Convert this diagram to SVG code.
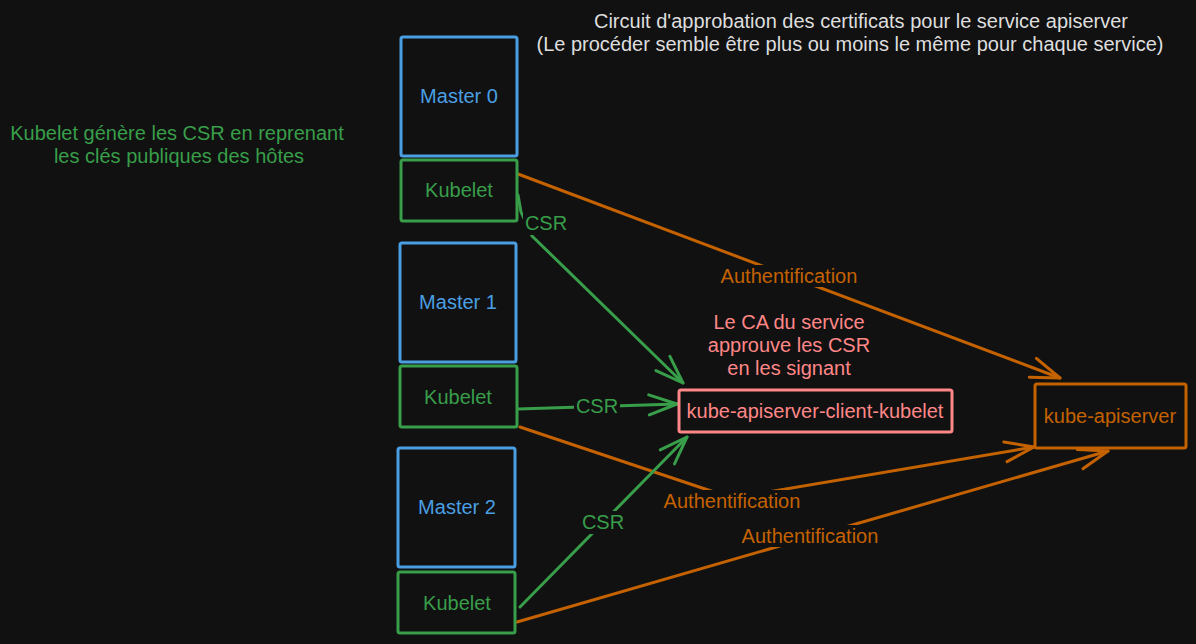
<svg xmlns="http://www.w3.org/2000/svg" width="1196" height="644" viewBox="0 0 1196 644">
<defs>
<style>
text{font-family:"Liberation Sans",Arial,sans-serif;font-size:20px;text-anchor:middle}
.box{fill:none;stroke-width:3;stroke-linejoin:round}
.blue{stroke:#4a9fe3}.tblue{fill:#4a9fe3}
.green{stroke:#389e4a}.tgreen{fill:#389e4a}
.orange{stroke:#c46200}.torange{fill:#c46200}
.pink{stroke:#ff8787}.tpink{fill:#ff8787}
.title{fill:#dedede}
.edge{fill:none;stroke-width:3;stroke-linecap:round;stroke-linejoin:round}
.lbg{fill:#111111}
</style>
<marker id="ag" markerUnits="userSpaceOnUse" viewBox="-32 -14 36 28" refX="0" refY="0" markerWidth="36" markerHeight="28" orient="auto" overflow="visible">
<path d="M-28,-10 L0,0 L-28,10" fill="none" stroke="#389e4a" stroke-width="3" stroke-linecap="round" stroke-linejoin="round"/>
</marker>
<marker id="ao" markerUnits="userSpaceOnUse" viewBox="-32 -14 36 28" refX="0" refY="0" markerWidth="36" markerHeight="28" orient="auto" overflow="visible">
<path d="M-29,-10 L0,0 L-29,10" fill="none" stroke="#c46200" stroke-width="3" stroke-linecap="round" stroke-linejoin="round"/>
</marker>
</defs>
<rect width="1196" height="644" fill="#111111"/>

<g id="title">
<text class="title" x="861" y="28">Circuit d'approbation des certificats pour le service apiserver</text>
<text class="title" x="850" y="51">(Le procéder semble être plus ou moins le même pour chaque service)</text>
</g>
<g id="note-kubelet">
<text class="tgreen" x="177" y="140">Kubelet génère les CSR en reprenant</text>
<text class="tgreen" x="179" y="163">les clés publiques des hôtes</text>
</g>
<g id="note-ca">
<text class="tpink" x="789" y="329">Le CA du service</text>
<text class="tpink" x="789" y="352">approuve les CSR</text>
<text class="tpink" x="789" y="375">en les signant</text>
</g>

<g id="connectors">
<path class="edge orange" d="M518,174 L1060,378" marker-end="url(#ao)"/>
<path class="edge orange" d="M520,427 L732,498 L1034,447" marker-end="url(#ao)"/>
<path class="edge orange" d="M517,622 L1108,451" marker-end="url(#ao)"/>
<path class="edge green" d="M518,195 L521,212 L532,236 L683,383" marker-end="url(#ag)"/>
<path class="edge green" d="M518,409 L677,404" marker-end="url(#ag)"/>
<path class="edge green" d="M520,607 L687,437" marker-end="url(#ag)"/>
<rect class="lbg" x="719" y="265" width="140" height="22"/>
<text class="torange" x="789" y="283">Authentification</text>
<rect class="lbg" x="662" y="490" width="140" height="22"/>
<text class="torange" x="732" y="508">Authentification</text>
<rect class="lbg" x="740" y="525" width="140" height="22"/>
<text class="torange" x="810" y="543">Authentification</text>
<rect class="lbg" x="523" y="212" width="46" height="23"/>
<text class="tgreen" x="546" y="230">CSR</text>
<rect class="lbg" x="574" y="395" width="46" height="22"/>
<text class="tgreen" x="597" y="413">CSR</text>
<rect class="lbg" x="580" y="511" width="46" height="23"/>
<text class="tgreen" x="603" y="529">CSR</text>
</g>

<g id="master0">
<rect class="box blue" x="401" y="37" width="116" height="119" rx="2"/>
<text class="tblue" x="459" y="103">Master 0</text>
</g>
<g id="kubelet0">
<rect class="box green" x="401" y="160" width="116" height="61" rx="2"/>
<text class="tgreen" x="459" y="197">Kubelet</text>
</g>
<g id="master1">
<rect class="box blue" x="400" y="243" width="116" height="119" rx="2"/>
<text class="tblue" x="458" y="309">Master 1</text>
</g>
<g id="kubelet1">
<rect class="box green" x="400" y="366" width="117" height="61" rx="2"/>
<text class="tgreen" x="458" y="404">Kubelet</text>
</g>
<g id="master2">
<rect class="box blue" x="398" y="448" width="117" height="119" rx="2"/>
<text class="tblue" x="457" y="514">Master 2</text>
</g>
<g id="kubelet2">
<rect class="box green" x="398" y="572" width="117" height="61" rx="2"/>
<text class="tgreen" x="457" y="610">Kubelet</text>
</g>
<g id="ca-kubelet">
<rect class="box pink" x="679" y="390" width="273" height="42" rx="2"/>
<text class="tpink" x="815" y="418">kube-apiserver-client-kubelet</text>
</g>
<g id="kube-apiserver">
<rect class="box orange" x="1035" y="384" width="151" height="64" rx="2"/>
<text class="torange" x="1110" y="423">kube-apiserver</text>
</g>
</svg>
